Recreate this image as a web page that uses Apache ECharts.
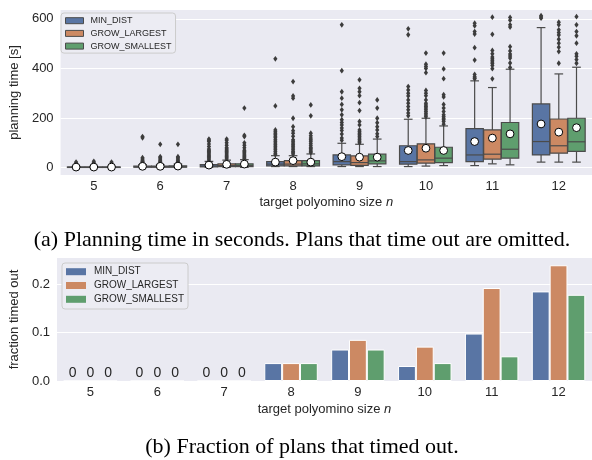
<!DOCTYPE html>
<html><head><meta charset="utf-8">
<script src="https://cdn.jsdelivr.net/npm/echarts@6/dist/echarts.min.js"></script>
<style>html,body{margin:0;padding:0;background:#fff}#c{width:592px;height:460px}</style>
</head><body><div id="c"></div>
<script>
// ---------- data ----------
const categories = ['5', '6', '7', '8', '9', '10', '11', '12'];
const methods = ['MIN_DIST', 'GROW_LARGEST', 'GROW_SMALLEST'];
const yTicksTime = [0, 200, 400, 600];
const yTicksFrac = [0, 0.1, 0.2];

// box stats per size: [low whisker, q1, median, q3, high whisker, mean]
const boxMinDist = [
  [0.3, 0.8, 1.5, 2.5, 5, 2],
  [0.5, 1.5, 3, 6, 12, 5],
  [1, 3, 6, 12, 25, 10],
  [4, 7, 14, 24, 48, 22],
  [4, 11, 24, 51, 98, 44],
  [4, 14, 24, 88, 195, 69],
  [8, 24, 51, 157, 350, 105],
  [22, 51, 105, 257, 565, 176]
];
const boxGrowLargest = [
  [0.3, 0.8, 1.5, 2.5, 5, 2],
  [0.5, 1.5, 3, 6, 12, 5],
  [1, 4, 8, 15, 30, 13],
  [4, 7, 14, 28, 48, 28],
  [4, 9, 20, 47, 94, 42],
  [6, 18, 31, 96, 199, 78],
  [15, 34, 54, 152, 323, 119],
  [22, 58, 88, 196, 378, 143]
];
const boxGrowSmallest = [
  [0.3, 0.8, 1.5, 2.5, 5, 2],
  [0.5, 1.5, 3, 7, 14, 6],
  [1, 4, 8, 15, 32, 14],
  [4, 7, 15, 28, 55, 22],
  [4, 15, 27, 54, 115, 42],
  [8, 20, 38, 82, 168, 69],
  [11, 38, 74, 182, 397, 136],
  [22, 65, 104, 199, 405, 161]
];

// outliers per size
const outMinDist = [
  [10, 14, 18, 22],
  [15, 18, 20, 23, 26, 30, 35, 40, 120, 125],
  [30, 35, 40, 45, 50, 55, 60, 65, 70, 75, 85, 95, 105, 110, 115],
  [52, 58, 65, 72, 79, 86, 92, 99, 106, 112, 120, 126, 132, 139, 145, 152, 249, 439],
  [110, 119, 135, 150, 160, 172, 182, 193, 213, 233, 255, 280, 306, 391, 576],
  [209, 220, 233, 246, 260, 273, 289, 300, 313, 327, 536, 560],
  [358, 362, 367, 376, 434, 484, 539, 549, 572, 583],
  [603, 608, 613]
];
const outGrowLargest = [
  [10, 15, 20, 25],
  [15, 18, 22, 26, 30, 35, 40, 44, 94],
  [35, 40, 45, 50, 55, 60, 65, 70, 75, 80, 90, 100, 110, 115],
  [55, 60, 65, 72, 79, 86, 92, 99, 106, 112, 126, 139, 149, 165, 199, 280, 289, 347],
  [100, 106, 112, 119, 126, 132, 139, 145, 152, 172, 186, 230, 262, 290, 306, 320, 354],
  [205, 212, 219, 226, 233, 240, 246, 253, 260, 273, 290, 300, 311, 383, 400, 408, 417, 462],
  [358, 399, 412, 420, 426, 433, 439, 446, 459, 473, 538, 607],
  [421, 468, 486, 502, 518, 535, 545, 556, 576, 587]
];
const outGrowSmallest = [
  [10, 14, 18, 22],
  [15, 18, 22, 26, 30, 35, 40, 44, 94],
  [36, 40, 45, 50, 55, 60, 65, 70, 80, 90, 100, 125, 130, 240],
  [60, 65, 71, 77, 82, 90, 98, 106, 112, 119, 128, 139, 209, 253],
  [125, 136, 152, 165, 181, 199, 240, 273],
  [175, 186, 193, 199, 206, 213, 226, 240, 255, 285, 294, 359, 398, 462],
  [404, 422, 442, 450, 458, 471, 488, 567, 576, 595, 606],
  [421, 436, 449, 459, 502, 532, 549, 576, 609]
];

// fraction of plans timed out
const fracMinDist = [0, 0, 0, 0.037, 0.065, 0.031, 0.098, 0.185];
const fracGrowLargest = [0, 0, 0, 0.037, 0.085, 0.071, 0.192, 0.239];
const fracGrowSmallest = [0, 0, 0, 0.037, 0.065, 0.037, 0.051, 0.178];

// ---------- style ----------
const COLORS = ['#5975a4', '#cc8963', '#5f9e6e'];
const LINE = '#4b4b4b';
const TXT = '#262626';
const BG = '#eaeaf2';
const SANS = 'Liberation Sans, Arial, sans-serif';
const SERIF = 'Liberation Serif, Times New Roman, serif';

const boxes = [boxMinDist, boxGrowLargest, boxGrowSmallest];
const outs = [outMinDist, outGrowLargest, outGrowSmallest];
const fracs = [fracMinDist, fracGrowLargest, fracGrowSmallest];

function boxRenderer(hue, color) {
  return function (params, api) {
    const c = api.value(0);
    const band = api.size([1, 0])[0];
    const slot = band * 0.8 / 3;
    const x = api.coord([c, 0])[0] + (hue - 1) * slot;
    const hw = slot * 0.98 / 2;
    const y = i => api.coord([c, api.value(i)])[1];
    const lo = y(1), q1 = y(2), md = y(3), q3 = y(4), hi = y(5);
    const ls = { stroke: LINE, lineWidth: 1.2 };
    return {
      type: 'group', children: [
        { type: 'line', shape: { x1: x, y1: q1, x2: x, y2: lo }, style: ls },
        { type: 'line', shape: { x1: x, y1: q3, x2: x, y2: hi }, style: ls },
        { type: 'line', shape: { x1: x - hw / 2, y1: lo, x2: x + hw / 2, y2: lo }, style: ls },
        { type: 'line', shape: { x1: x - hw / 2, y1: hi, x2: x + hw / 2, y2: hi }, style: ls },
        { type: 'rect', shape: { x: x - hw, y: q3, width: 2 * hw, height: Math.max(q1 - q3, 0.5) }, style: { fill: color, stroke: LINE, lineWidth: 1.2 } },
        { type: 'line', shape: { x1: x - hw, y1: md, x2: x + hw, y2: md }, style: ls }
      ]
    };
  };
}
function meanRenderer(hue) {
  return function (params, api) {
    const c = api.value(0);
    const band = api.size([1, 0])[0];
    const slot = band * 0.8 / 3;
    const x = api.coord([c, 0])[0] + (hue - 1) * slot;
    const yy = api.coord([c, api.value(1)])[1];
    return { type: 'circle', shape: { cx: x, cy: yy, r: 3.9 }, style: { fill: '#fff', stroke: '#000', lineWidth: 1 } };
  };
}
function outRenderer(hue) {
  return function (params, api) {
    const c = api.value(0);
    const band = api.size([1, 0])[0];
    const slot = band * 0.8 / 3;
    const x = api.coord([c, 0])[0] + (hue - 1) * slot;
    const yy = api.coord([c, api.value(1)])[1];
    return { type: 'polygon', shape: { points: [[x, yy - 2.9], [x + 2.1, yy], [x, yy + 2.9], [x - 2.1, yy]] }, style: { fill: '#3c3c3c' } };
  };
}

const series = [];
methods.forEach((m, h) => {
  series.push({
    name: m, type: 'custom', xAxisIndex: 0, yAxisIndex: 0, clip: false,
    itemStyle: { color: COLORS[h] },
    renderItem: boxRenderer(h, COLORS[h]),
    encode: { x: 0, y: [1, 2, 3, 4, 5] },
    data: boxes[h].map((b, i) => [i, b[0], b[1], b[2], b[3], b[4]]),
    z: 2
  });
});
methods.forEach((m, h) => {
  const d = [];
  outs[h].forEach((arr, i) => arr.forEach(v => d.push([i, v])));
  series.push({
    name: m, type: 'custom', xAxisIndex: 0, yAxisIndex: 0, clip: false,
    itemStyle: { color: COLORS[h] },
    renderItem: outRenderer(h), encode: { x: 0, y: 1 }, data: d, z: 3
  });
});
methods.forEach((m, h) => {
  series.push({
    name: m, type: 'custom', xAxisIndex: 0, yAxisIndex: 0, clip: false,
    itemStyle: { color: COLORS[h] },
    renderItem: meanRenderer(h), encode: { x: 0, y: 1 },
    data: boxes[h].map((b, i) => [i, b[5]]), z: 4
  });
});
methods.forEach((m, h) => {
  series.push({
    name: m, type: 'bar', xAxisIndex: 1, yAxisIndex: 1,
    barGap: '0%', barCategoryGap: '20%',
    itemStyle: { color: COLORS[h], borderColor: '#fff', borderWidth: 1 },
    label: {
      show: true, position: 'top', distance: 0, fontSize: 14, fontFamily: SANS, color: TXT,
      formatter: p => (p.value === 0 ? '0' : '')
    },
    data: fracs[h]
  });
});

function xAxisCfg(grid, gap) {
  return {
    type: 'category', gridIndex: grid, data: categories,
    axisLine: { show: false }, axisTick: { show: false }, splitLine: { show: false },
    axisLabel: { fontSize: 13, fontFamily: SANS, color: TXT, margin: 5 },
    name: 'target polyomino size {i|n}', nameLocation: 'middle', nameGap: gap,
    nameTextStyle: {
      fontSize: 13, fontFamily: SANS, color: TXT,
      rich: { i: { fontStyle: 'italic', fontSize: 13, fontFamily: SANS, color: TXT } }
    }
  };
}

const option = {
  animation: false,
  backgroundColor: '#fff',
  grid: [
    { left: 56.5, right: 0, top: 10, height: 165, show: true, backgroundColor: BG, borderWidth: 0 },
    { left: 56.5, right: 0, top: 258, height: 123, show: true, backgroundColor: BG, borderWidth: 0 }
  ],
  xAxis: [xAxisCfg(0, 20.5), xAxisCfg(1, 21.5)],
  yAxis: [
    {
      type: 'value', gridIndex: 0, min: -30, max: 636,
      axisLine: { show: false },
      axisTick: { show: false, customValues: yTicksTime },
      axisLabel: { customValues: yTicksTime, fontSize: 13, fontFamily: SANS, color: TXT, margin: 7 },
      splitLine: { show: true, lineStyle: { color: '#fff', width: 1.2 } },
      name: 'planning time [s]', nameLocation: 'middle', nameRotate: 90, nameGap: 26,
      nameTextStyle: { fontSize: 13, fontFamily: SANS, color: TXT }
    },
    {
      type: 'value', gridIndex: 1, min: 0, max: 0.254,
      axisLine: { show: false },
      axisTick: { show: false, customValues: yTicksFrac },
      axisLabel: { customValues: yTicksFrac, fontSize: 13, fontFamily: SANS, color: TXT, margin: 7, formatter: v => v.toFixed(1) },
      splitLine: { show: true, lineStyle: { color: '#fff', width: 1.2 } },
      name: 'fraction timed out', nameLocation: 'middle', nameRotate: 90, nameGap: 27,
      nameTextStyle: { fontSize: 13, fontFamily: SANS, color: TXT }
    }
  ],
  legend: [
    {
      orient: 'vertical', left: 61, top: 13, selectedMode: false,
      itemWidth: 18, itemHeight: 6, itemGap: 0.7,
      padding: [1.7, 4, 1, 4],
      backgroundColor: '#ececf3', borderColor: '#cccccc', borderWidth: 1, borderRadius: 3,
      textStyle: { fontSize: 9, fontFamily: SANS, color: TXT, lineHeight: 12, padding: [0, 0, 0, 2] },
      data: methods.map((m, h) => ({ name: m, icon: 'rect', itemStyle: { color: COLORS[h], borderColor: LINE, borderWidth: 1 } }))
    },
    {
      orient: 'vertical', left: 62, top: 263, selectedMode: false,
      itemWidth: 20, itemHeight: 7, itemGap: 0.8,
      padding: [2.2, 4, 3.2, 4],
      backgroundColor: '#ececf3', borderColor: '#cccccc', borderWidth: 1, borderRadius: 3,
      textStyle: { fontSize: 10, fontFamily: SANS, color: TXT, lineHeight: 13, padding: [0, 0, 0, 3] },
      data: methods.map((m, h) => ({ name: m, icon: 'rect', itemStyle: { color: COLORS[h], borderWidth: 0 } }))
    }
  ],
  graphic: [
    { type: 'text', style: { text: '(a) Planning time in seconds. Plans that time out are omitted.', x: 302, y: 240.5, textAlign: 'center', textVerticalAlign: 'middle', font: '22px ' + SERIF, fill: '#000' } },
    { type: 'text', style: { text: '(b) Fraction of plans that timed out.', x: 302, y: 447, textAlign: 'center', textVerticalAlign: 'middle', font: '22px ' + SERIF, fill: '#000' } }
  ],
  series: series
};

const chart = echarts.init(document.getElementById('c'), null, { renderer: 'canvas' });
chart.setOption(option);
</script></body></html>
